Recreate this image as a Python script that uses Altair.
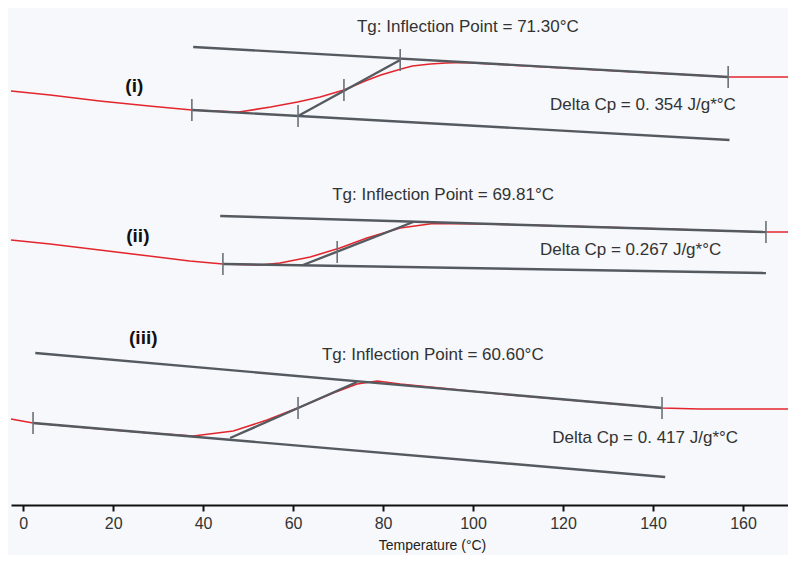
import altair as alt
import pandas as pd

# ---------------- data ----------------
# x: temperature (°C); y: heat flow in arbitrary units (no y axis shown)
curve_i_T = [-2.7, 6, 17, 28, 37.5, 48, 55, 61, 66, 71.3, 76, 79.5, 84, 86.5, 90.5, 94, 98, 128, 156.7, 164, 170]
curve_i_H = [414, 410, 404, 399, 395, 393, 398, 403, 408, 415, 424, 430, 436, 439, 441, 442, 442.5, 435, 428, 428, 428]

curve_ii_T = [-2.7, 6, 17, 28, 37, 44.4, 52.7, 57.1, 61.6, 63.8, 70.4, 76.4, 83.8, 91.1, 103.1, 128.2, 165.1, 170]
curve_ii_H = [265, 261, 255, 249, 244, 241, 240, 242, 246, 248, 257, 267, 277, 281.5, 281, 278, 273, 273]

curve_iii_T = [-2.7, 2.2, 17.1, 28.2, 37.8, 46.7, 54.2, 61.6, 68.9, 74.2, 78.7, 83.8, 106, 142, 150.4, 170]
curve_iii_H = [86, 82, 76, 72, 69, 74, 85, 98, 112, 121, 124, 121, 111, 97, 96, 96]

# tangent / baseline segments (start T, start H, end T, end H)
seg_T1 = [37.5, 37.8, 61.1, 44.4, 43.8, 62.2, 2.2, 2.7, 46.0]
seg_H1 = [395, 458, 389, 241, 289, 240, 82, 152, 67]
seg_T2 = [157.0, 156.7, 83.8, 165.1, 165.1, 86.7, 142.7, 142.0, 74.2]
seg_H2 = [365, 428, 445, 232, 273, 283, 28, 97, 123]

# small vertical marker ticks on the analysis lines
tick_T = [37.5, 61.1, 71.3, 83.8, 156.7, 44.4, 69.8, 165.1, 2.2, 61.1, 142.0]
tick_H = [395, 389, 415, 445, 428, 241, 253, 273, 82, 97, 97]

# annotations
sample_labels = ["(i)", "(ii)", "(iii)"]
sample_T = [24.7, 25.5, 26.7]
sample_H = [419, 269, 167]

note_texts = [
    "Tg: Inflection Point = 71.30°C",
    "Delta Cp = 0. 354 J/g*°C",
    "Tg: Inflection Point = 69.81°C",
    "Delta Cp = 0.267  J/g*°C",
    "Tg: Inflection Point = 60.60°C",
    "Delta Cp = 0. 417 J/g*°C",
]
note_T = [74.2, 117.1, 68.7, 114.9, 66.4, 117.6]
note_H = [478, 400, 310, 255, 150, 67]

x_ticks = [0, 20, 40, 60, 80, 100, 120, 140, 160]

# ---------------- build tables ----------------
curves = pd.concat([
    pd.DataFrame({"T": curve_i_T, "H": curve_i_H, "curve": "i"}),
    pd.DataFrame({"T": curve_ii_T, "H": curve_ii_H, "curve": "ii"}),
    pd.DataFrame({"T": curve_iii_T, "H": curve_iii_H, "curve": "iii"}),
], ignore_index=True)
curves["order"] = range(len(curves))

segs = pd.DataFrame({"T": seg_T1, "H": seg_H1, "T2": seg_T2, "H2": seg_H2})
ticks = pd.DataFrame({"T": tick_T, "H": tick_H})
samples = pd.DataFrame({"T": sample_T, "H": sample_H, "text": sample_labels})
notes = pd.DataFrame({"T": note_T, "H": note_H, "text": note_texts})

FONT = "Liberation Sans, Arial, Helvetica, sans-serif"

xscale = alt.Scale(domain=[-2.7, 170], nice=False, zero=False)
yscale = alt.Scale(domain=[0, 497], nice=False, zero=False)

x_enc = alt.X(
    "T:Q",
    scale=xscale,
    axis=alt.Axis(
        values=x_ticks,
        title="Temperature (°C)",
        titleFont=FONT,
        titleFontSize=14,
        titleFontWeight="normal",
        titleColor="#222",
        titleX=421,
        titleY=40,
        titleAlign="center",
        titleBaseline="middle",
        labelFont=FONT,
        labelFontSize=16,
        labelColor="#333",
        labelPadding=4,
        domainColor="#111",
        domainWidth=2,
        tickColor="#111",
        tickWidth=2,
        tickSize=6,
        grid=False,
    ),
)
y_enc = alt.Y("H:Q", scale=yscale, axis=None)

red = alt.Chart(curves).mark_line(color="#e3262e", strokeWidth=1.6).encode(
    x=x_enc, y=y_enc, detail="curve:N", order="order:Q"
)

gray = alt.Chart(segs).mark_rule(color="#555a61", strokeWidth=2.4).encode(
    x=alt.X("T:Q", scale=xscale), y=alt.Y("H:Q", scale=yscale), x2="T2:Q", y2="H2:Q"
)

tk = alt.Chart(ticks).mark_tick(orient="vertical", size=22, thickness=1.6, color="#6b7078", opacity=1).encode(
    x=alt.X("T:Q", scale=xscale), y=alt.Y("H:Q", scale=yscale)
)

sample_txt = alt.Chart(samples).mark_text(
    align="center", baseline="middle", font=FONT,
    fontSize=19, fontWeight="bold", color="#111"
).encode(x=alt.X("T:Q", scale=xscale), y=alt.Y("H:Q", scale=yscale), text="text:N")

note_txt = alt.Chart(notes).mark_text(
    align="left", baseline="middle", font=FONT, fontSize=17, color="#333"
).encode(x=alt.X("T:Q", scale=xscale), y=alt.Y("H:Q", scale=yscale), text="text:N")

chart = alt.layer(red, gray, tk, sample_txt, note_txt).properties(
    width=777,
    height=497,
    autosize=alt.AutoSizeParams(type="none"),
    padding={"left": 3, "top": 0, "right": 0, "bottom": 50},
    background="#f6f8fb",
).configure_view(stroke=None)

chart.save("out.html", embed_options={"renderer": "svg", "actions": False})
